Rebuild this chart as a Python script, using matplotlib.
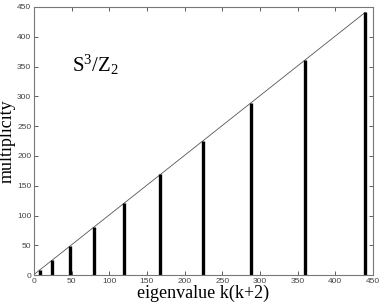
import matplotlib
matplotlib.use("Agg")
import matplotlib.pyplot as plt
import numpy as np

plt.rcParams["mathtext.fontset"] = "custom"
plt.rcParams["mathtext.rm"] = "Liberation Serif"
plt.rcParams["mathtext.it"] = "Liberation Serif:italic"

# eigenvalues k(k+2) for even k, multiplicity (k+1)^2
eigenvalues = [0, 8, 24, 48, 80, 120, 168, 224, 288, 360, 440]
multiplicity = [1, 9, 25, 49, 81, 121, 169, 225, 289, 361, 441]
line_x = [0, 440]
line_y = [1, 441]

fig = plt.figure(figsize=(3.82, 3.02), dpi=100)
ax = fig.add_axes([0.089, 0.089, 0.887, 0.888])

ax.plot(line_x, line_y, color="#555555", linewidth=0.6)
ax.vlines(eigenvalues, 0, multiplicity, color="black", linewidth=2.4)

ax.set_xlim(0, 450)
ax.set_ylim(0, 450)
ax.set_xticks(np.arange(0, 451, 50))
ax.set_yticks(np.arange(0, 451, 50))
ax.tick_params(direction="in", top=True, right=True, length=3, width=0.6,
               labelsize=6, colors="#444444", pad=2)
for lbl in ax.get_xticklabels() + ax.get_yticklabels():
    lbl.set_family("Liberation Sans")
for s in ax.spines.values():
    s.set_color("#777777")
    s.set_linewidth(0.8)

ax.set_xlabel("eigenvalue k(k+2)", family="Liberation Serif", fontsize=13, labelpad=0)
ax.set_ylabel("multiplicity", family="Liberation Serif", fontsize=13, labelpad=1)
ax.text(50, 352, r"$\mathrm{S}^{3}\mathrm{/Z}_{2}$", fontsize=15,
        va="center", ha="left")

fig.savefig("out.png", dpi=100)
